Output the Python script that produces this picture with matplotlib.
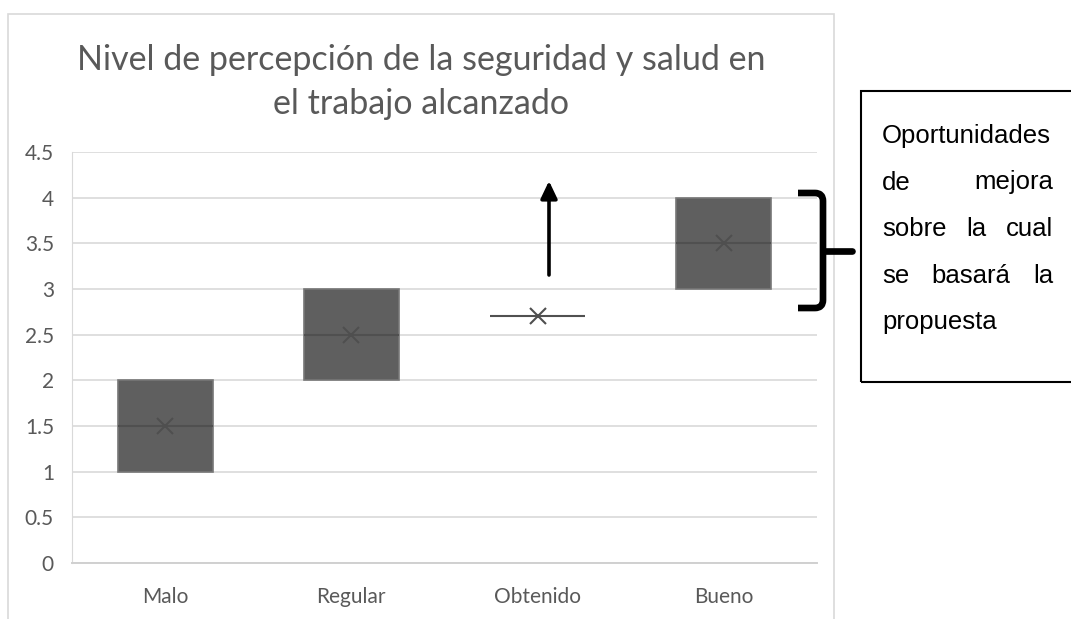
import matplotlib
matplotlib.use('Agg')
import matplotlib.pyplot as plt
from matplotlib.patches import Rectangle, PathPatch
from matplotlib.path import Path

# ==========================================
# DATOS
categorias = ['Malo', 'Regular', 'Obtenido', 'Bueno']
q1 = [1.0, 2.0, 2.7, 3.0]
q3 = [2.0, 3.0, 2.7, 4.0]
medianas = [1.5, 2.5, 2.7, 3.5]
medias = [1.5, 2.5, 2.7, 3.5]
y_ticks = [0, 0.5, 1, 1.5, 2, 2.5, 3, 3.5, 4, 4.5]

titulo = ['Nivel de percepción de la seguridad y salud en', 'el trabajo alcanzado']
nota = [['Oportunidades'], ['de', 'mejora'], ['sobre', 'la', 'cual'],
        ['se', 'basará', 'la'], ['propuesta']]

GRIS_TXT = '#595959'
GRIS_GRID = '#d9d9d9'

W, H = 1071, 619
fig = plt.figure(figsize=(W / 100, H / 100), dpi=100)


def fx(px):
    return px / W


def fy(py):
    return 1 - py / H


# marco del gráfico
fig.patches.append(Rectangle((fx(8), fy(630)), fx(834) - fx(8), fy(14) - fy(630),
                             transform=fig.transFigure, fill=False,
                             ec=GRIS_GRID, lw=1.2, clip_on=False))

ax = fig.add_axes([fx(72), fy(563), fx(817) - fx(72), fy(152) - fy(563)])

stats = []
for i in range(len(categorias)):
    stats.append({'label': categorias[i], 'q1': q1[i], 'q3': q3[i],
                  'med': medianas[i], 'mean': medias[i],
                  'whislo': q1[i], 'whishi': q3[i], 'fliers': []})

ax.bxp(stats, positions=range(len(categorias)), widths=0.51, patch_artist=True,
       showmeans=True, showcaps=False, showfliers=False,
       boxprops=dict(facecolor='#5f5f5f', edgecolor='#777777', linewidth=1.2),
       medianprops=dict(color='#505050', linewidth=1.5),
       meanprops=dict(marker='x', markeredgecolor='#4f4f4f', markersize=12,
                      markeredgewidth=1.5),
       whiskerprops=dict(linewidth=0))

ax.set_xlim(-0.5, len(categorias) - 0.5)
ax.set_ylim(0, 4.5)
ax.set_yticks(y_ticks)
ax.set_yticklabels([f'{v:g}' for v in y_ticks])
ax.set_axisbelow(True)
ax.yaxis.grid(True, color=GRIS_GRID, lw=1.2)
for s in ['top', 'right']:
    ax.spines[s].set_visible(False)
ax.spines['left'].set_color(GRIS_GRID)
ax.spines['bottom'].set_color('#d0d0d0')
ax.spines['bottom'].set_linewidth(1.4)
ax.tick_params(axis='y', length=0, labelcolor=GRIS_TXT, labelsize=15, pad=13)
ax.tick_params(axis='x', length=0, labelcolor=GRIS_TXT, labelsize=15, pad=17)
for lbl in ax.get_xticklabels() + ax.get_yticklabels():
    lbl.set_family('Lato')

# titulo
fig.text(fx(421), fy(60), titulo[0], ha='center', va='center', fontsize=24.5,
         color=GRIS_TXT, family='Lato')
fig.text(fx(421), fy(104), titulo[1], ha='center', va='center', fontsize=24.5,
         color=GRIS_TXT, family='Lato')

# flecha
fig.add_artist(plt.Annotation('', xy=(fx(549), fy(181)), xytext=(fx(549), fy(275)),
                              xycoords='figure fraction', textcoords='figure fraction',
                              arrowprops=dict(arrowstyle='-|>,head_width=0.5,head_length=1.05',
                                              lw=2.6, color='black', shrinkA=0, shrinkB=0)))

# llave
pts = [(798, 193), (815, 193), (823, 193), (823, 201), (823, 300), (823, 308),
       (815, 308), (798, 308)]
codes = [Path.MOVETO, Path.LINETO, Path.CURVE3, Path.CURVE3, Path.LINETO,
         Path.CURVE3, Path.CURVE3, Path.LINETO]
verts = [(fx(x), fy(y)) for x, y in pts]
fig.patches.append(PathPatch(Path(verts, codes), transform=fig.transFigure,
                             fill=False, lw=4.8, ec='black', joinstyle='round'))
fig.add_artist(plt.Line2D([fx(823), fx(852)], [fy(251), fy(251)],
                          transform=fig.transFigure, lw=4.8, color='black',
                          solid_capstyle='round'))

# cuadro de texto
fig.patches.append(Rectangle((fx(861), fy(382)), fx(1085) - fx(861), fy(91) - fy(382),
                             transform=fig.transFigure, fill=False, ec='black',
                             lw=1.5, clip_on=False))

renderer = fig.canvas.get_renderer()
x0, x1 = 882, 1053
base = 143
paso = 46.5
for k, palabras in enumerate(nota):
    yb = fy(base + k * paso)
    textos = [fig.text(0, yb, p, fontsize=18.5, family='Liberation Sans',
                       color='black', va='baseline') for p in palabras]
    anchos = [t.get_window_extent(renderer).width for t in textos]
    if len(palabras) == 1 or k == len(nota) - 1:
        x = x0
        for t, a in zip(textos, anchos):
            t.set_x(fx(x))
            x += a + 6
    else:
        hueco = (x1 - x0 - sum(anchos)) / (len(palabras) - 1)
        x = x0
        for t, a in zip(textos, anchos):
            t.set_x(fx(x))
            x += a + hueco

fig.savefig('out.png', dpi=100, facecolor='white')
